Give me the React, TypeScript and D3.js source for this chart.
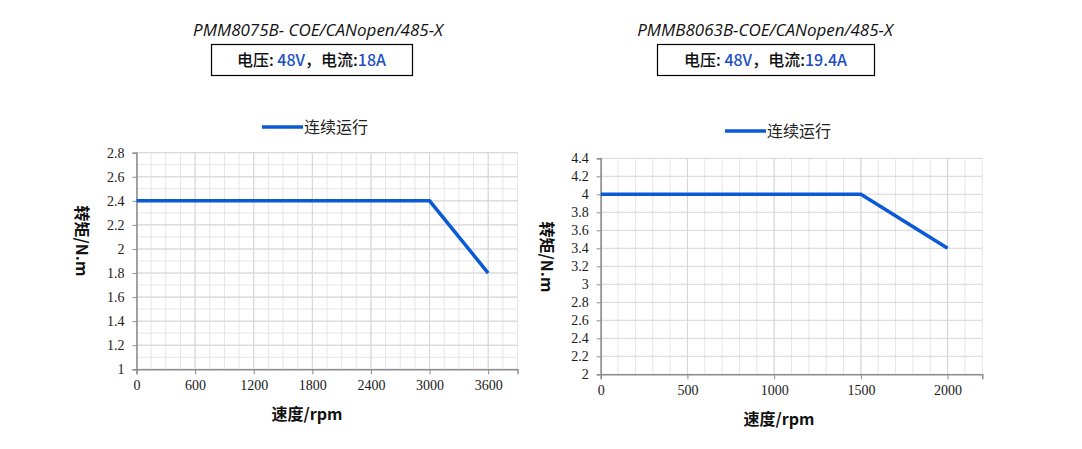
import React, { useRef, useEffect } from 'react';
import * as d3 from 'd3';

// left panel: PMM8075B
const leftSpeed = [0, 3000, 3600];
const leftTorque = [2.4, 2.4, 1.8];
const leftXTicks = [0, 600, 1200, 1800, 2400, 3000, 3600];
const leftYTicks = [1, 1.2, 1.4, 1.6, 1.8, 2, 2.2, 2.4, 2.6, 2.8];

// right panel: PMMB8063B
const rightSpeed = [0, 1500, 2000];
const rightTorque = [4, 4, 3.4];
const rightXTicks = [0, 500, 1000, 1500, 2000];
const rightYTicks = [2, 2.2, 2.4, 2.6, 2.8, 3, 3.2, 3.4, 3.6, 3.8, 4, 4.2, 4.4];

const LINE_BLUE = '#0a5ad8';
const VALUE_BLUE = '#1c4fc4';
const CJK = '"Noto Sans CJK SC", "Noto Sans", sans-serif';

interface PanelCfg {
  title: string;
  voltage: string;
  current: string;
  speed: number[];
  torque: number[];
  xTicks: number[];
  yTicks: number[];
  xMax: number;
  xMinorStep: number;
  yMinorStep: number | null;
  box: { x0: number; x1: number; y0: number; y1: number };
  titleX: number;
  infoBox: { x: number; w: number };
  legendX: number;
  legendY: number;
  yTitle: { x: number; y: number };
  xTitle: { x: number; y: number };
}

const panels: PanelCfg[] = [
  {
    title: 'PMM8075B- COE/CANopen/485-X',
    voltage: '48V',
    current: '18A',
    speed: leftSpeed,
    torque: leftTorque,
    xTicks: leftXTicks,
    yTicks: leftYTicks,
    xMax: 3900,
    xMinorStep: 150,
    yMinorStep: 0.1,
    box: { x0: 136.5, x1: 517.5, y0: 152.7, y1: 369.3 },
    titleX: 318,
    infoBox: { x: 211, w: 201 },
    legendX: 262,
    legendY: 127,
    yTitle: { x: 82, y: 241 },
    xTitle: { x: 307, y: 420 },
  },
  {
    title: 'PMMB8063B-COE/CANopen/485-X',
    voltage: '48V',
    current: '19.4A',
    speed: rightSpeed,
    torque: rightTorque,
    xTicks: rightXTicks,
    yTicks: rightYTicks,
    xMax: 2200,
    xMinorStep: 100,
    yMinorStep: null,
    box: { x0: 600.7, x1: 982.3, y0: 158.3, y1: 374.3 },
    titleX: 765,
    infoBox: { x: 657, w: 217 },
    legendX: 725,
    legendY: 131,
    yTitle: { x: 547, y: 257 },
    xTitle: { x: 779, y: 425 },
  },
];

const App: React.FC = () => {
  const svgRef = useRef<SVGSVGElement>(null);

  useEffect(() => {
    if (!svgRef.current) return;
    const svg = d3.select(svgRef.current);
    svg.selectAll('*').remove();

    panels.forEach(p => {
      const g = svg.append('g');
      const yMin = p.yTicks[0];
      const yMax = p.yTicks[p.yTicks.length - 1];
      const x = d3.scaleLinear().domain([0, p.xMax]).range([p.box.x0, p.box.x1]);
      const y = d3.scaleLinear().domain([yMin, yMax]).range([p.box.y1, p.box.y0]);

      // title
      g.append('text')
        .attr('x', p.titleX)
        .attr('y', 36)
        .attr('text-anchor', 'middle')
        .attr('font-family', '"Open Sans", sans-serif')
        .attr('font-style', 'italic')
        .attr('font-size', 17)
        .attr('fill', '#111')
        .text(p.title);

      // voltage / current box
      g.append('rect')
        .attr('x', p.infoBox.x + 0.5)
        .attr('y', 44.5)
        .attr('width', p.infoBox.w)
        .attr('height', 31)
        .attr('fill', 'none')
        .attr('stroke', '#000')
        .attr('stroke-width', 1.2);
      const info = g.append('text')
        .attr('x', p.infoBox.x + p.infoBox.w / 2)
        .attr('y', 66)
        .attr('text-anchor', 'middle')
        .attr('font-family', CJK)
        .attr('font-weight', 500)
        .attr('font-size', 16)
        .attr('fill', '#111');
      info.append('tspan').text('电压: ');
      info.append('tspan').attr('fill', VALUE_BLUE).text(p.voltage);
      info.append('tspan').text('，电流:');
      info.append('tspan').attr('fill', VALUE_BLUE).text(p.current);

      // legend
      g.append('line')
        .attr('x1', p.legendX).attr('x2', p.legendX + 41)
        .attr('y1', p.legendY).attr('y2', p.legendY)
        .attr('stroke', LINE_BLUE)
        .attr('stroke-width', 3.5);
      g.append('text')
        .attr('x', p.legendX + 42)
        .attr('y', p.legendY + 6)
        .attr('font-family', CJK)
        .attr('font-size', 16)
        .attr('fill', '#222')
        .text('连续运行');

      // minor grid
      const xMinor = d3.range(0, p.xMax + 1e-6, p.xMinorStep);
      g.append('g')
        .selectAll('line')
        .data(xMinor)
        .join('line')
        .attr('x1', d => x(d)).attr('x2', d => x(d))
        .attr('y1', p.box.y0).attr('y2', p.box.y1)
        .attr('stroke', '#e6e6e6')
        .attr('stroke-width', 1);
      if (p.yMinorStep) {
        const yMinor = d3.range(yMin, yMax + 1e-6, p.yMinorStep);
        g.append('g')
          .selectAll('line')
          .data(yMinor)
          .join('line')
          .attr('x1', p.box.x0).attr('x2', p.box.x1)
          .attr('y1', d => y(d)).attr('y2', d => y(d))
          .attr('stroke', '#e6e6e6')
          .attr('stroke-width', 1);
      }
      // major grid
      g.append('g')
        .selectAll('line')
        .data(p.xTicks)
        .join('line')
        .attr('x1', d => x(d)).attr('x2', d => x(d))
        .attr('y1', p.box.y0).attr('y2', p.box.y1)
        .attr('stroke', '#d6d6d6')
        .attr('stroke-width', 1);
      g.append('g')
        .selectAll('line')
        .data(p.yTicks)
        .join('line')
        .attr('x1', p.box.x0).attr('x2', p.box.x1)
        .attr('y1', d => y(d)).attr('y2', d => y(d))
        .attr('stroke', '#d6d6d6')
        .attr('stroke-width', 1);

      // axes
      const yAxis = g.append('g')
        .attr('transform', `translate(${p.box.x0},0)`)
        .call(d3.axisLeft(y).tickValues(p.yTicks).tickSize(4).tickPadding(8).tickFormat(d => String(+d)));
      yAxis.select('.domain').attr('stroke', '#8c8c8c').attr('stroke-width', 1.5);
      yAxis.selectAll('.tick line').attr('stroke', '#8c8c8c');
      yAxis.selectAll('text')
        .attr('fill', '#1a1a1a')
        .attr('font-size', 14)
        .attr('font-family', '"Liberation Serif", serif');

      const xAxis = g.append('g')
        .attr('transform', `translate(0,${p.box.y1})`)
        .call(d3.axisBottom(x).tickValues(p.xTicks).tickSize(5).tickPadding(6).tickFormat(d => String(d)));
      xAxis.select('.domain').attr('stroke', '#8c8c8c').attr('stroke-width', 1.5);
      xAxis.selectAll('.tick line').attr('stroke', '#8c8c8c');
      xAxis.selectAll('text')
        .attr('fill', '#1a1a1a')
        .attr('font-size', 14)
        .attr('font-family', '"Liberation Serif", serif');

      // curve
      const pts = p.speed.map((s, i) => [s, p.torque[i]] as [number, number]);
      g.append('path')
        .datum(pts)
        .attr('d', d3.line<[number, number]>().x(d => x(d[0])).y(d => y(d[1])))
        .attr('fill', 'none')
        .attr('stroke', LINE_BLUE)
        .attr('stroke-width', 3.5);

      // axis titles
      g.append('text')
        .attr('transform', `translate(${p.yTitle.x - 6},${p.yTitle.y}) rotate(90)`)
        .attr('text-anchor', 'middle')
        .attr('font-family', CJK)
        .attr('font-weight', 700)
        .attr('font-size', 16)
        .attr('fill', '#111')
        .text('转矩/N.m');
      g.append('text')
        .attr('x', p.xTitle.x)
        .attr('y', p.xTitle.y)
        .attr('text-anchor', 'middle')
        .attr('font-family', CJK)
        .attr('font-weight', 700)
        .attr('font-size', 16)
        .attr('fill', '#111')
        .text('速度/rpm');
    });
  }, []);

  return (
    <svg
      ref={svgRef}
      width={1082}
      height={449}
      style={{ position: 'absolute', left: 0, top: 0, background: '#fff' }}
    />
  );
};

export default App;
